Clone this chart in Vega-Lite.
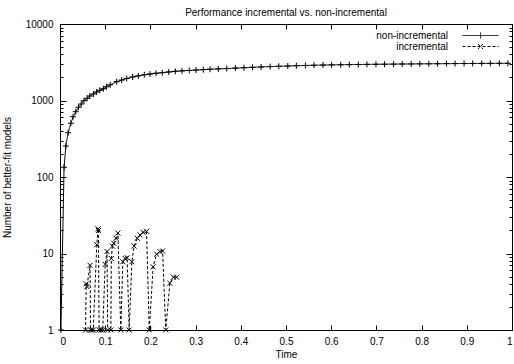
{
  "$schema": "https://vega.github.io/schema/vega-lite/v6.json",
  "autosize": "none",
  "width": 452,
  "height": 306,
  "padding": {"left": 60, "top": 24, "right": 2, "bottom": 34},
  "background": "white",
  "title": {"text": "Performance incremental vs. non-incremental", "frame": "group", "fontSize": 10, "fontWeight": "normal", "font": "Liberation Sans", "color": "black", "anchor": "middle", "baseline": "alphabetic", "offset": -7},
  "config": {
    "font": "Liberation Sans",
    "view": {"stroke": "black", "strokeWidth": 1},
    "axis": {"domain": false, "grid": false, "tickColor": "black", "tickWidth": 1, "labelColor": "black", "labelFontSize": 10, "titleColor": "black", "titleFontSize": 10, "titleFontWeight": "normal", "labelFont": "Liberation Sans", "titleFont": "Liberation Sans"}
  },
  "datasets": {
    "perf": [
      {"series": "non-incremental", "t": 0.002, "v": 1},
      {"series": "non-incremental", "t": 0.009, "v": 134},
      {"series": "non-incremental", "t": 0.013, "v": 254},
      {"series": "non-incremental", "t": 0.018, "v": 379},
      {"series": "non-incremental", "t": 0.024, "v": 504},
      {"series": "non-incremental", "t": 0.029, "v": 614},
      {"series": "non-incremental", "t": 0.035, "v": 714},
      {"series": "non-incremental", "t": 0.041, "v": 815},
      {"series": "non-incremental", "t": 0.047, "v": 900},
      {"series": "non-incremental", "t": 0.053, "v": 994},
      {"series": "non-incremental", "t": 0.060, "v": 1069},
      {"series": "non-incremental", "t": 0.066, "v": 1145},
      {"series": "non-incremental", "t": 0.074, "v": 1216},
      {"series": "non-incremental", "t": 0.081, "v": 1291},
      {"series": "non-incremental", "t": 0.088, "v": 1359},
      {"series": "non-incremental", "t": 0.096, "v": 1426},
      {"series": "non-incremental", "t": 0.103, "v": 1515},
      {"series": "non-incremental", "t": 0.111, "v": 1600},
      {"series": "non-incremental", "t": 0.1254, "v": 1760},
      {"series": "non-incremental", "t": 0.1365, "v": 1850},
      {"series": "non-incremental", "t": 0.1476, "v": 1940},
      {"series": "non-incremental", "t": 0.1608, "v": 2030},
      {"series": "non-incremental", "t": 0.1732, "v": 2100},
      {"series": "non-incremental", "t": 0.1865, "v": 2170},
      {"series": "non-incremental", "t": 0.1991, "v": 2220},
      {"series": "non-incremental", "t": 0.2124, "v": 2270},
      {"series": "non-incremental", "t": 0.2263, "v": 2310},
      {"series": "non-incremental", "t": 0.2405, "v": 2360},
      {"series": "non-incremental", "t": 0.2551, "v": 2410},
      {"series": "non-incremental", "t": 0.2699, "v": 2440},
      {"series": "non-incremental", "t": 0.2861, "v": 2470},
      {"series": "non-incremental", "t": 0.3009, "v": 2500},
      {"series": "non-incremental", "t": 0.317, "v": 2530},
      {"series": "non-incremental", "t": 0.3319, "v": 2560},
      {"series": "non-incremental", "t": 0.3502, "v": 2590},
      {"series": "non-incremental", "t": 0.3688, "v": 2615},
      {"series": "non-incremental", "t": 0.388, "v": 2650},
      {"series": "non-incremental", "t": 0.407, "v": 2685},
      {"series": "non-incremental", "t": 0.426, "v": 2715},
      {"series": "non-incremental", "t": 0.445, "v": 2745},
      {"series": "non-incremental", "t": 0.465, "v": 2775},
      {"series": "non-incremental", "t": 0.484, "v": 2800},
      {"series": "non-incremental", "t": 0.504, "v": 2825},
      {"series": "non-incremental", "t": 0.523, "v": 2850},
      {"series": "non-incremental", "t": 0.543, "v": 2870},
      {"series": "non-incremental", "t": 0.562, "v": 2890},
      {"series": "non-incremental", "t": 0.582, "v": 2905},
      {"series": "non-incremental", "t": 0.601, "v": 2920},
      {"series": "non-incremental", "t": 0.621, "v": 2933},
      {"series": "non-incremental", "t": 0.640, "v": 2945},
      {"series": "non-incremental", "t": 0.660, "v": 2955},
      {"series": "non-incremental", "t": 0.679, "v": 2965},
      {"series": "non-incremental", "t": 0.699, "v": 2975},
      {"series": "non-incremental", "t": 0.718, "v": 2983},
      {"series": "non-incremental", "t": 0.738, "v": 2991},
      {"series": "non-incremental", "t": 0.757, "v": 2999},
      {"series": "non-incremental", "t": 0.777, "v": 3006},
      {"series": "non-incremental", "t": 0.796, "v": 3013},
      {"series": "non-incremental", "t": 0.816, "v": 3020},
      {"series": "non-incremental", "t": 0.835, "v": 3026},
      {"series": "non-incremental", "t": 0.855, "v": 3032},
      {"series": "non-incremental", "t": 0.874, "v": 3038},
      {"series": "non-incremental", "t": 0.894, "v": 3043},
      {"series": "non-incremental", "t": 0.913, "v": 3048},
      {"series": "non-incremental", "t": 0.933, "v": 3053},
      {"series": "non-incremental", "t": 0.952, "v": 3058},
      {"series": "non-incremental", "t": 0.972, "v": 3062},
      {"series": "non-incremental", "t": 0.991, "v": 3066},
      {"series": "incremental", "t": 0.0565, "v": 1},
      {"series": "incremental", "t": 0.058, "v": 4.0},
      {"series": "incremental", "t": 0.0595, "v": 3.7},
      {"series": "incremental", "t": 0.0665, "v": 7},
      {"series": "incremental", "t": 0.0675, "v": 1},
      {"series": "incremental", "t": 0.070, "v": 1},
      {"series": "incremental", "t": 0.0735, "v": 1},
      {"series": "incremental", "t": 0.0815, "v": 13},
      {"series": "incremental", "t": 0.084, "v": 21},
      {"series": "incremental", "t": 0.085, "v": 20},
      {"series": "incremental", "t": 0.0865, "v": 1},
      {"series": "incremental", "t": 0.0905, "v": 1},
      {"series": "incremental", "t": 0.0945, "v": 1},
      {"series": "incremental", "t": 0.100, "v": 7.2},
      {"series": "incremental", "t": 0.104, "v": 10.6},
      {"series": "incremental", "t": 0.1055, "v": 1},
      {"series": "incremental", "t": 0.1125, "v": 1},
      {"series": "incremental", "t": 0.1135, "v": 8.6},
      {"series": "incremental", "t": 0.116, "v": 12.5},
      {"series": "incremental", "t": 0.119, "v": 13.6},
      {"series": "incremental", "t": 0.124, "v": 15.8},
      {"series": "incremental", "t": 0.128, "v": 18.5},
      {"series": "incremental", "t": 0.1345, "v": 1},
      {"series": "incremental", "t": 0.139, "v": 7.8},
      {"series": "incremental", "t": 0.144, "v": 8.6},
      {"series": "incremental", "t": 0.1485, "v": 8.8},
      {"series": "incremental", "t": 0.153, "v": 1},
      {"series": "incremental", "t": 0.159, "v": 7.8},
      {"series": "incremental", "t": 0.164, "v": 12.5},
      {"series": "incremental", "t": 0.171, "v": 15.8},
      {"series": "incremental", "t": 0.177, "v": 17.5},
      {"series": "incremental", "t": 0.184, "v": 18.9},
      {"series": "incremental", "t": 0.1915, "v": 19.5},
      {"series": "incremental", "t": 0.1975, "v": 1},
      {"series": "incremental", "t": 0.206, "v": 6.7},
      {"series": "incremental", "t": 0.214, "v": 9.8},
      {"series": "incremental", "t": 0.221, "v": 10.6},
      {"series": "incremental", "t": 0.227, "v": 10.8},
      {"series": "incremental", "t": 0.234, "v": 1},
      {"series": "incremental", "t": 0.243, "v": 4.1},
      {"series": "incremental", "t": 0.251, "v": 4.9},
      {"series": "incremental", "t": 0.258, "v": 4.9}
    ]
  },
  "data": {"name": "perf"},
  "resolve": {"axis": {"x": "independent", "y": "independent"}},
  "layer": [
    {
      "transform": [{"filter": "datum.series === 'non-incremental'"}],
      "mark": {"type": "line", "color": "black", "strokeWidth": 1},
      "encoding": {
        "x": {"field": "t", "type": "quantitative", "scale": {"domain": [0, 1], "nice": false},
              "axis": {"orient": "bottom", "values": [0, 0.1, 0.2, 0.3, 0.4, 0.5, 0.6, 0.7, 0.8, 0.9, 1], "format": "~g", "tickSize": -5, "labelPadding": 11, "title": "Time", "titlePadding": 3}},
        "y": {"field": "v", "type": "quantitative", "scale": {"type": "log", "domain": [1, 10000], "nice": false},
              "axis": {"orient": "left", "values": [1, 10, 100, 1000, 10000], "format": "d", "tickSize": -6, "labelPadding": 13, "title": "Number of better-fit models", "titlePadding": 13}},
        "strokeDash": {"field": "series", "type": "nominal",
          "scale": {"domain": ["non-incremental", "incremental"], "range": [[1, 0], [3, 2]]},
          "legend": {"title": null, "orient": "none", "legendX": 415, "legendY": 6, "symbolSize": 100, "symbolStrokeWidth": 1, "symbolStrokeColor": "black", "symbolFillColor": "transparent", "labelAlign": "right", "labelOffset": -38, "labelFontSize": 10, "labelFont": "Liberation Sans", "labelColor": "black", "rowPadding": 0,
            "encode": {"symbols": {"update": {"size": {"value": 100}, "shape": {"signal": "datum.value === 'incremental' ? 'M-3.6,0H3.6M-0.5,-0.5L0.5,0.5M0.5,-0.5L-0.5,0.5' : 'M-3.6,0H3.6M0,-0.6V0.6'"}}}}}
        }
      }
    },
    {
      "transform": [{"filter": "datum.series === 'incremental'"}],
      "mark": {"type": "line", "color": "black", "strokeWidth": 1},
      "encoding": {
        "x": {"field": "t", "type": "quantitative",
              "axis": {"orient": "top", "values": [0, 0.1, 0.2, 0.3, 0.4, 0.5, 0.6, 0.7, 0.8, 0.9, 1], "labels": false, "tickSize": -5, "title": null}},
        "y": {"field": "v", "type": "quantitative",
              "axis": {"orient": "right", "values": [1, 10, 100, 1000, 10000], "labels": false, "tickSize": -6, "title": null}},
        "strokeDash": {"field": "series", "type": "nominal"}
      }
    },
    {
      "transform": [{"filter": "datum.series === 'non-incremental'"}],
      "mark": {"type": "point", "shape": "M-1,0H1M0,-1V1", "size": 36, "filled": false, "stroke": "black", "strokeWidth": 1, "opacity": 1},
      "encoding": {
        "x": {"field": "t", "type": "quantitative", "axis": null},
        "y": {"field": "v", "type": "quantitative",
              "axis": {"orient": "left", "values": [2,3,4,5,6,7,8,9,20,30,40,50,60,70,80,90,200,300,400,500,600,700,800,900,2000,3000,4000,5000,6000,7000,8000,9000], "labels": false, "tickSize": -3, "title": null}}
      }
    },
    {
      "transform": [{"filter": "datum.series === 'incremental'"}],
      "mark": {"type": "point", "shape": "M-1,-1L1,1M1,-1L-1,1", "size": 25, "filled": false, "stroke": "black", "strokeWidth": 1, "opacity": 1},
      "encoding": {
        "x": {"field": "t", "type": "quantitative", "axis": null},
        "y": {"field": "v", "type": "quantitative",
              "axis": {"orient": "right", "values": [2,3,4,5,6,7,8,9,20,30,40,50,60,70,80,90,200,300,400,500,600,700,800,900,2000,3000,4000,5000,6000,7000,8000,9000], "labels": false, "tickSize": -3, "title": null}}
      }
    }
  ]
}
